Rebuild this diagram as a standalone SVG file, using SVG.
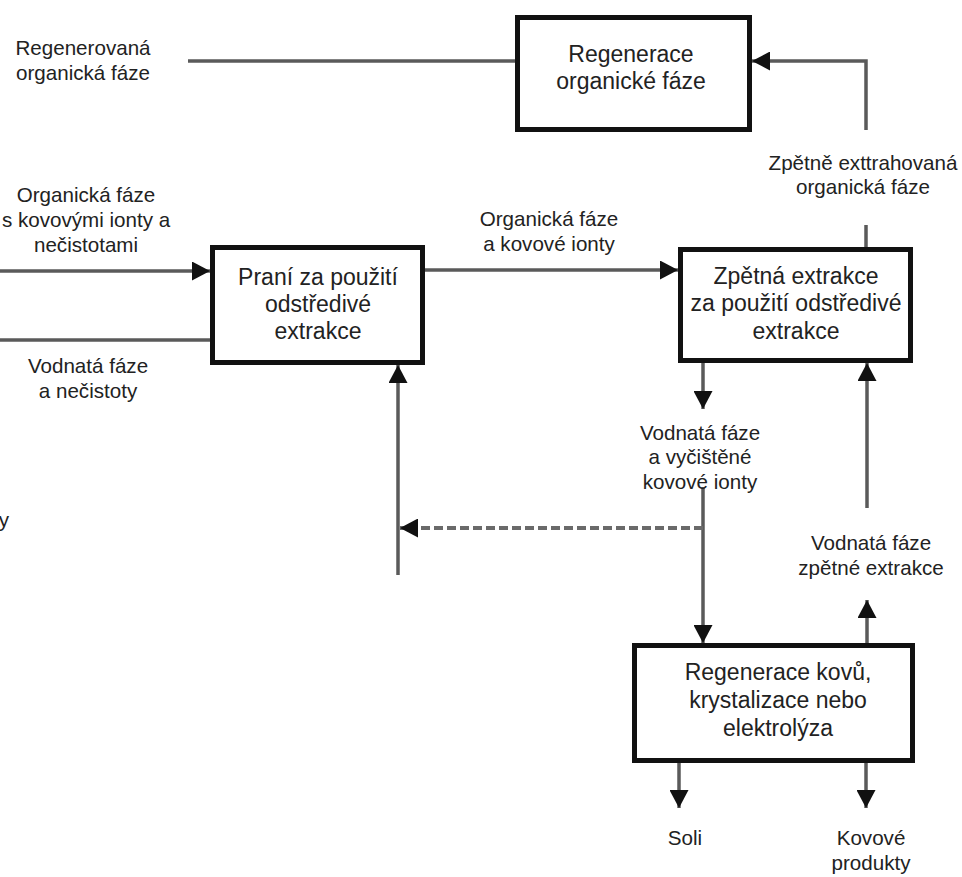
<svg xmlns="http://www.w3.org/2000/svg" width="962" height="877" viewBox="0 0 962 877">
<style>
.box{fill:#fff;stroke:#111;stroke-width:5}
.bt{font-family:"Liberation Sans",Arial,sans-serif;font-size:23px;fill:#222;text-anchor:middle}
.lb{font-family:"Liberation Sans",Arial,sans-serif;font-size:20.6px;fill:#222;text-anchor:middle}
.c{fill:none;stroke:#5a5a5a;stroke-width:3.5}
.d{fill:none;stroke:#6a6a6a;stroke-width:4;stroke-dasharray:9 4}
</style>
<defs>
<marker id="ah" markerUnits="userSpaceOnUse" markerWidth="19" markerHeight="19" refX="18" refY="9.5" orient="auto">
<path d="M0,0 L18,9.5 L0,19 Z" fill="#111"/>
</marker>
</defs>
<rect width="962" height="877" fill="#fff"/>
<g id="connectors">
<path class="c" d="M188,61 H515"/>
<path class="c" d="M866,130 V61 H752" marker-end="url(#ah)"/>
<path class="c" d="M866,225 V247"/>
<path class="c" d="M0,271 H210" marker-end="url(#ah)"/>
<path class="c" d="M0,340 H210"/>
<path class="c" d="M425,270 H678" marker-end="url(#ah)"/>
<path class="c" d="M703,363 V409" marker-end="url(#ah)"/>
<path class="c" d="M703,487 V643" marker-end="url(#ah)"/>
<path class="d" d="M703,528 H400" marker-end="url(#ah)"/>
<path class="c" d="M398,575 V365" marker-end="url(#ah)"/>
<path class="c" d="M867,508 V363" marker-end="url(#ah)"/>
<path class="c" d="M867,643 V600" marker-end="url(#ah)"/>
<path class="c" d="M679,763 V808" marker-end="url(#ah)"/>
<path class="c" d="M866,763 V808" marker-end="url(#ah)"/>
</g>
<g id="regenerace-organicke-faze">
<rect class="box" x="517.5" y="17.5" width="232" height="112"/>
<text class="bt" x="631" y="62">Regenerace</text>
<text class="bt" x="631" y="89">organické fáze</text>
</g>
<g id="prani">
<rect class="box" x="212.5" y="247.5" width="210" height="115"/>
<text class="bt" x="318" y="285">Praní za použití</text>
<text class="bt" x="318" y="312">odstředivé</text>
<text class="bt" x="318" y="339">extrakce</text>
</g>
<g id="zpetna-extrakce">
<rect class="box" x="680.5" y="249.5" width="230" height="111"/>
<text class="bt" x="796" y="284">Zpětná extrakce</text>
<text class="bt" x="796" y="311">za použití odstředivé</text>
<text class="bt" x="796" y="339">extrakce</text>
</g>
<g id="regenerace-kovu">
<rect class="box" x="634.5" y="645.5" width="278" height="115"/>
<text class="bt" x="778" y="680">Regenerace kovů,</text>
<text class="bt" x="778" y="708">krystalizace nebo</text>
<text class="bt" x="778" y="736">elektrolýza</text>
</g>
<g id="labels">
<text class="lb" x="83" y="55">Regenerovaná</text>
<text class="lb" x="83" y="80">organická fáze</text>
<text class="lb" x="86" y="202">Organická fáze</text>
<text class="lb" x="86" y="227">s kovovými ionty a</text>
<text class="lb" x="86" y="252">nečistotami</text>
<text class="lb" x="88" y="373">Vodnatá fáze</text>
<text class="lb" x="88" y="398">a nečistoty</text>
<text class="lb" x="4" y="527">y</text>
<text class="lb" x="549" y="226">Organická fáze</text>
<text class="lb" x="549" y="251">a kovové ionty</text>
<text class="lb" x="863" y="170">Zpětně exttrahovaná</text>
<text class="lb" x="863" y="194">organická fáze</text>
<text class="lb" x="700" y="440">Vodnatá fáze</text>
<text class="lb" x="700" y="464">a vyčištěné</text>
<text class="lb" x="700" y="489">kovové ionty</text>
<text class="lb" x="871" y="550">Vodnatá fáze</text>
<text class="lb" x="871" y="575">zpětné extrakce</text>
<text class="lb" x="685" y="845">Soli</text>
<text class="lb" x="871" y="845">Kovové</text>
<text class="lb" x="871" y="870">produkty</text>
</g>
</svg>
